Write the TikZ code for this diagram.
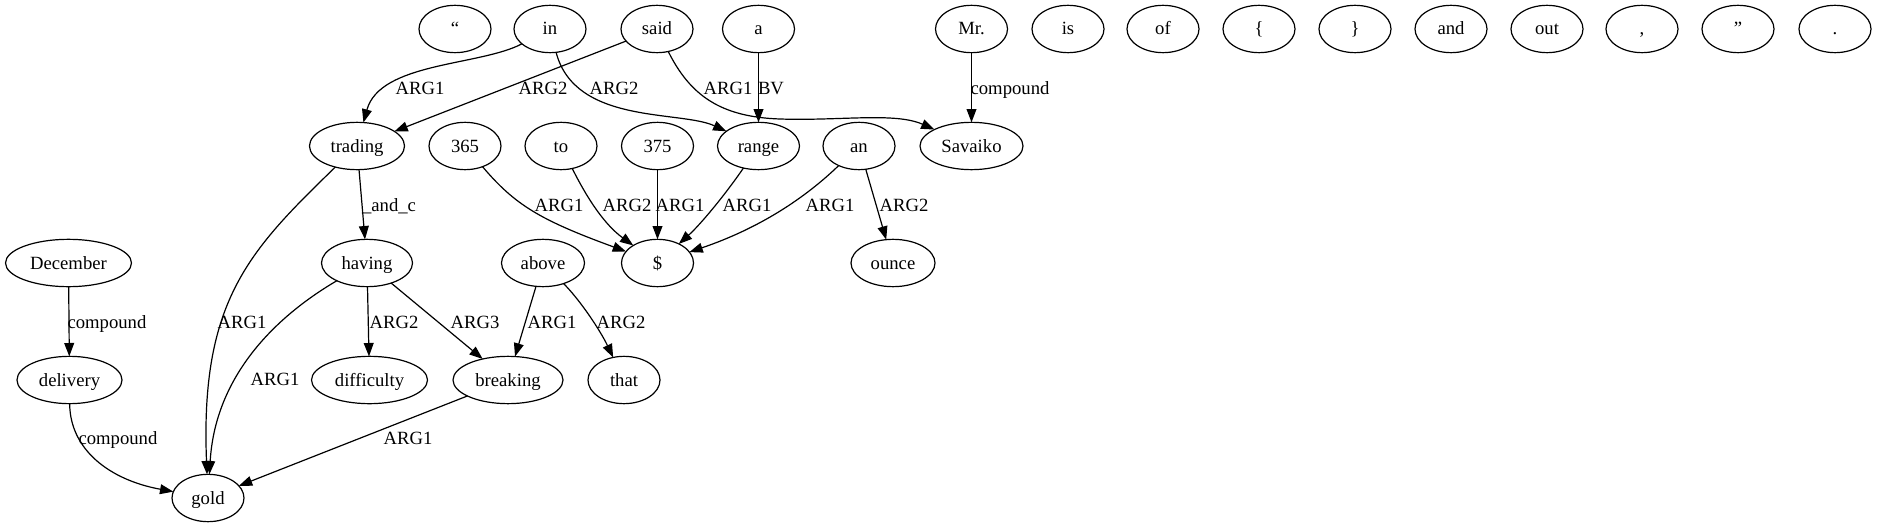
\documentclass[tikz,border=0pt]{standalone}
\usepackage{fontspec}
\setmainfont{Liberation Serif}
\usetikzlibrary{arrows.meta,shapes.geometric}
\begin{document}
\begin{tikzpicture}[x=0.75pt,y=-0.75pt,
  tok/.style={draw, ellipse, line width=0.9pt, inner sep=0pt, outer sep=0pt,
    minimum height=35.5pt, minimum width=54pt,
    font=\fontsize{14pt}{16pt}\selectfont, text height=11pt, text depth=2pt},
  wd/.style={minimum width=#1*0.75pt},
  lbl/.style={anchor=base, inner sep=0pt, font=\fontsize{14pt}{16pt}\selectfont},
  rel/.style={line width=0.9pt, -{Triangle[length=10pt,width=7.4pt]}}]
\fill[white] (0,0) rectangle (1877,528);
\useasboundingbox (0,0) rectangle (1877,528);
% row 0
\node[tok] (nq1) at (455,29) {“};
\node[tok] (nin) at (550,29) {in};
\node[tok] (nsaid) at (657,29) {said};
\node[tok] (na) at (758.5,29) {a};
\node[tok] (nmr) at (971.5,29) {Mr.};
\node[tok] (nis) at (1068,29) {is};
\node[tok] (nof) at (1163,29) {of};
\node[tok] (nlb) at (1259,29) {\{};
\node[tok] (nrb) at (1355,29) {\}};
\node[tok] (nand) at (1451,29) {and};
\node[tok] (nout) at (1547,29) {out};
\node[tok] (ncomma) at (1642,29) {,};
\node[tok] (nq2) at (1738,29) {”};
\node[tok] (ndot) at (1835,29) {.};
% row 1
\node[tok,wd=95] (ntrading) at (357,146) {trading};
\node[tok] (n365) at (465,146) {365};
\node[tok] (nto) at (561,146) {to};
\node[tok] (n375) at (657.5,146) {375};
\node[tok,wd=82] (nrange) at (758.5,146) {range};
\node[tok] (nan) at (859,146) {an};
\node[tok,wd=103] (nsavaiko) at (971.5,146) {Savaiko};
% row 2
\node[tok,wd=126] (ndecember) at (68.5,263) {December};
\node[tok,wd=91] (nhaving) at (367,263) {having};
\node[tok,wd=83] (nabove) at (543,263) {above};
\node[tok] (ndollar) at (657.5,263) {\$};
\node[tok,wd=84] (nounce) at (893,263) {ounce};
% row 3
\node[tok,wd=105] (ndelivery) at (69.5,380) {delivery};
\node[tok,wd=116] (ndifficulty) at (369.5,380) {difficulty};
\node[tok,wd=110] (nbreaking) at (508,380) {breaking};
\node[tok] (nthat) at (624,380) {that};
% row 4
\node[tok] (ngold) at (208,498) {gold};
% edges
\draw[rel] (nin) .. controls (480,66) and (380,62) .. (ntrading);
\draw[rel] (nsaid) -- (ntrading);
\draw[rel] (nin) .. controls (575,125) and (680,110) .. (nrange);
\draw[rel] (nsaid) .. controls (690,95) and (720,117) .. (780,119) .. controls (840,121) and (895,112) .. (nsavaiko);
\draw[rel] (na) -- (nrange);
\draw[rel] (nmr) -- (nsavaiko);
\draw[rel] (ntrading) .. controls (250,250) and (200,300) .. (ngold);
\draw[rel] (ntrading) -- (nhaving);
\draw[rel] (n365) .. controls (515,205) and (540,220) .. (ndollar);
\draw[rel] (nto) .. controls (588,200) and (605,225) .. (ndollar);
\draw[rel] (n375) -- (ndollar);
\draw[rel] (nrange) .. controls (725,195) and (700,225) .. (ndollar);
\draw[rel] (nan) .. controls (805,198) and (760,228) .. (ndollar);
\draw[rel] (nan) -- (nounce);
\draw[rel] (ndecember) -- (ndelivery);
\draw[rel] (ndelivery) .. controls (70,450) and (110,480) .. (ngold);
\draw[rel] (nhaving) .. controls (270,320) and (215,380) .. (ngold);
\draw[rel] (nhaving) -- (ndifficulty);
\draw[rel] (nhaving) -- (nbreaking);
\draw[rel] (nabove) -- (nbreaking);
\draw[rel] (nabove) .. controls (580,300) and (600,330) .. (nthat);
\draw[rel] (nbreaking) -- (ngold);
% labels
\node[lbl] (l1) at (420,94) {ARG1};
\node[lbl] (l2) at (543,94) {ARG2};
\node[lbl] (l3) at (614,94) {ARG2};
\node[lbl] (l4) at (728,94) {ARG1};
\node[lbl] (l5) at (771,94) {BV};
\node[lbl] (l6) at (1010,94) {compound};
\node[lbl] (l7) at (389,211) {\_and\_c};
\node[lbl] (l8) at (559,211) {ARG1};
\node[lbl] (l9) at (627,211) {ARG2};
\node[lbl] (l10) at (680,211) {ARG1};
\node[lbl] (l11) at (747,211) {ARG1};
\node[lbl] (l12) at (830,211) {ARG1};
\node[lbl] (l13) at (904,211) {ARG2};
\node[lbl] (l14) at (242,328) {ARG1};
\node[lbl] (l15) at (107,328) {compound};
\node[lbl] (l16) at (394,328) {ARG2};
\node[lbl] (l17) at (475,328) {ARG3};
\node[lbl] (l18) at (552,328) {ARG1};
\node[lbl] (l19) at (621,328) {ARG2};
\node[lbl] (l20) at (275,385) {ARG1};
\node[lbl] (l21) at (118,444) {compound};
\node[lbl] (l22) at (408,444) {ARG1};
\end{tikzpicture}
\end{document}
